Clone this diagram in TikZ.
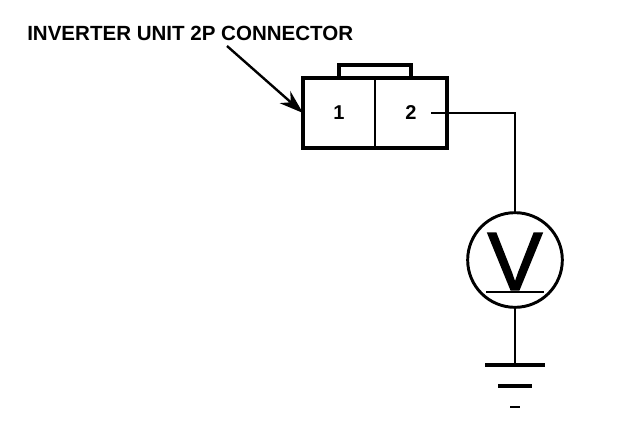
\documentclass[tikz,border=0pt]{standalone}
\usepackage{fontspec}
\setmainfont{Liberation Sans}
\newfontfamily\veefont[FakeBold=1.6]{Liberation Sans}
\usetikzlibrary{arrows.meta,fit}
\tikzset{wire/.style = {line width=1.5pt}}
\tikzset{cell/.style = {draw=black, line width=1.3pt, minimum width=54pt, minimum height=52.5pt, inner sep=0pt, outer sep=0pt}}
\tikzset{pin/.style = {font=\bfseries\fontsize{15}{15}\selectfont, inner sep=0pt, minimum width=30pt}}
\begin{document}
\begin{tikzpicture}[x=.75pt,y=-.75pt]
	\useasboundingbox (0,0) rectangle (640,436);
	\node[anchor=west, inner sep=0pt, font=\bfseries\fontsize{15.4}{15.4}\selectfont] (title) at (27,33) {INVERTER UNIT 2P CONNECTOR};
	% connector
	\node[cell] (cellone) at (339,113) {};
	\node[cell] (celltwo) at (411,113) {};
	\node[draw=black, line width=2.8pt, inner sep=0pt, outer sep=0pt, fit=(cellone)(celltwo)] (housing) {};
	\coordinate (tabtop) at (375,65);
	\draw[line width=2.4pt] (cellone.north) |- (tabtop) -| (celltwo.north);
	\node[pin] at (cellone) {1};
	\node[pin] (pintwo) at (celltwo) {2};
	\coordinate (arrowtail) at (227,46);
	\draw[line width=1.8pt, -{Stealth[length=18pt,width=12pt]}] (arrowtail) -- (housing.west);
	% meter
	\node[draw=black, circle, line width=2.2pt, minimum size=71pt, inner sep=0pt] (meter) at (515,260) {};
	\node[inner sep=0pt, font=\veefont\fontsize{62}{62}\selectfont] (vee) at (515,261.5) {V};
	\coordinate (vbase) at (515,292);
	\draw[line width=1.6pt] (vbase) +(-29,0) -- +(29,0);
	\draw[wire] (pintwo.east) -| (meter.north);
	% ground
	\coordinate (gnda) at (515,365);
	\coordinate (gndb) at (515,386);
	\coordinate (gndc) at (515,407);
	\draw[wire] (meter.south) -- (gnda);
	\draw[line width=3pt] (gnda) +(-30,0) -- +(30,0);
	\draw[line width=2.4pt] (gndb) +(-17,0) -- +(17,0);
	\draw[line width=2pt] (gndc) +(-5,0) -- +(5,0);
\end{tikzpicture}
\end{document}
